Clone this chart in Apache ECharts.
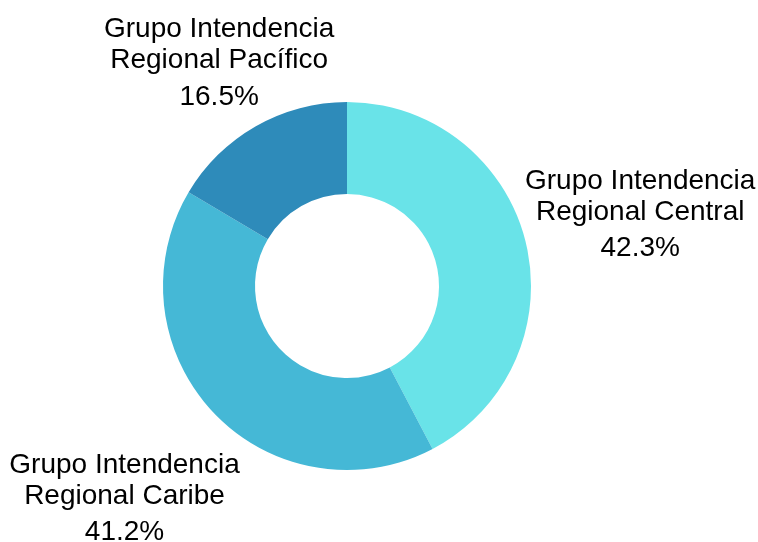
<!DOCTYPE html>
<html>
<head>
<meta charset="utf-8">
<script src="https://cdn.jsdelivr.net/npm/echarts@6/dist/echarts.min.js"></script>
<style>
  html, body { margin: 0; padding: 0; background: #fff; }
  #chart { width: 758px; height: 542px; }
</style>
</head>
<body>
<div id="chart"></div>
<script>
// datos del gráfico
const categories = [
  'Grupo Intendencia\nRegional Central',
  'Grupo Intendencia\nRegional Caribe',
  'Grupo Intendencia\nRegional Pacífico'
];
const values = [42.3, 41.2, 16.5];
const colors = ['#69e3e8', '#45b8d6', '#2e8bba'];

// distancia de cada etiqueta al centro (px)
const labelDist = [302, 307, 258];
const center = [347, 286];

const total = values.reduce((a, b) => a + b, 0);
// ángulo medio de cada porción (horario desde arriba)
const midAngles = [];
let acc = 0;
values.forEach(v => {
  midAngles.push((acc + v / 2) / total * 2 * Math.PI);
  acc += v;
});

const chart = echarts.init(document.getElementById('chart'));
const option = {
  backgroundColor: '#fff',
  animation: false,
  series: [
    {
      type: 'pie',
      center: center,
      radius: [92, 184],
      startAngle: 90,
      clockwise: true,
      avoidLabelOverlap: false,
      data: categories.map((name, i) => ({
        name: name,
        value: values[i],
        itemStyle: { color: colors[i] }
      })),
      itemStyle: { borderWidth: 0 },
      label: {
        show: true,
        position: 'outside',
        formatter: function (p) {
          const lines = p.name.split('\n').map(s => '{n|' + s + '}');
          return lines.join('\n') + '\n{p|' + p.value.toFixed(1) + '%}';
        },
        rich: {
          n: { fontFamily: 'Liberation Sans, Arial, sans-serif', fontSize: 28, color: '#000', lineHeight: 31, align: 'center' },
          p: { fontFamily: 'Liberation Sans, Arial, sans-serif', fontSize: 28, color: '#000', lineHeight: 38, padding: [4, 0, 0, 0], align: 'center' }
        }
      },
      labelLine: { show: false },
      labelLayout: function (params) {
        const i = params.dataIndex;
        const a = midAngles[i];
        return {
          x: center[0] + Math.sin(a) * labelDist[i],
          y: center[1] - Math.cos(a) * labelDist[i] + 2,
          align: 'center',
          verticalAlign: 'middle'
        };
      },
      emphasis: { disabled: true }
    }
  ]
};
chart.setOption(option);
window.addEventListener('resize', function () { chart.resize(); });
</script>
</body>
</html>
